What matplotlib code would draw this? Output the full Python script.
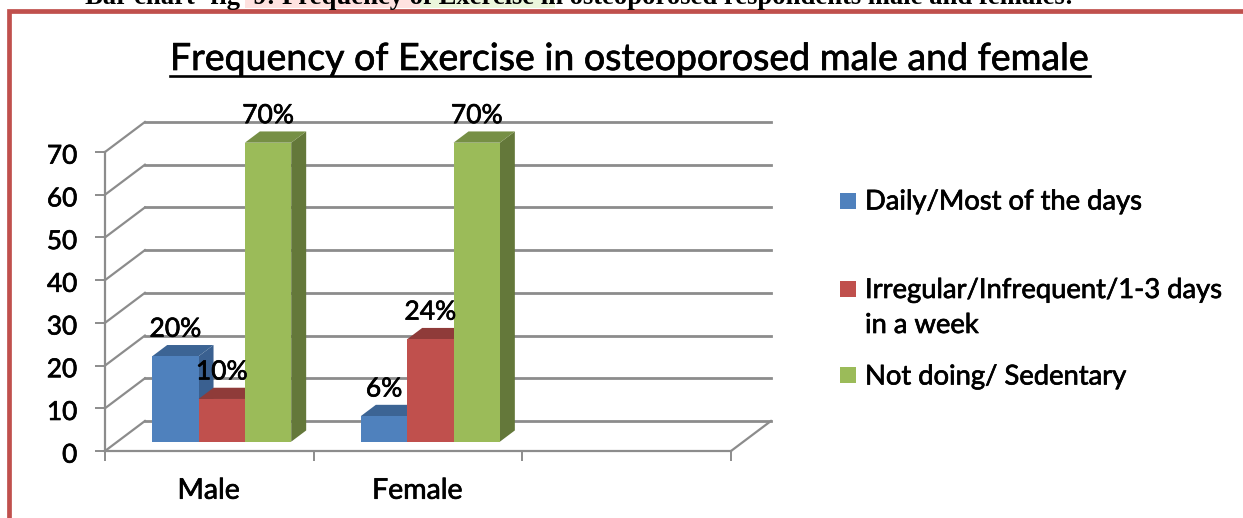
"""Frequency of exercise bar chart, Excel style fake-3D look."""
import matplotlib
matplotlib.use("Agg")
import matplotlib.pyplot as plt
import matplotlib.patheffects as pe

plt.rcParams["font.family"] = ["Lato", "DejaVu Sans"]

CATEGORIES = ["Male", "Female"]
SERIES = ["Daily/Most of the days",
          "Irregular/Infrequent/1-3 days\nin a week",
          "Not doing/ Sedentary"]
DAILY = [20, 6]
IRREGULAR = [10, 24]
NOT_DOING = [70, 70]
Y_TICKS = [0, 10, 20, 30, 40, 50, 60, 70]
TITLE = "Frequency of Exercise in osteoporosed male and female"
CAPTION = "Bar chart- fig  9: Frequency of Exercise in osteoporosed respondents male and females:"

W, H = 1243, 518
FRONT = "#4F81BD", "#C0504D", "#9BBB59"
TOPS = "#3C6494", "#8F3B39", "#768F45"
SIDES = "#3A6090", "#8A3836", "#64783A"
GRID = "#8C8C8C"

# wall depth in data units: 40 px across, 30 px up
DX = 40 / 209.0
DY = 30 / 4.27
BAR_W = 46.4 / 209.0
BAR_NEAR = 0.31     # front of bars, as fraction of wall depth
BAR_FAR = 0.685     # back of bars

# the source text is blurry and heavier than plain Lato
HEAVY = [pe.withStroke(linewidth=0.5, foreground="black")]


def px_rect(x0, y0, x1, y1):
    return [x0 / W, 1 - y1 / H, (x1 - x0) / W, (y1 - y0) / H]


fig = plt.figure(figsize=(W / 100, H / 100), dpi=100)

# red frame, runs off the right and bottom
bg = fig.add_axes([0, 0, 1, 1])
bg.set_xlim(0, W)
bg.set_ylim(H, 0)
bg.axis("off")
bg.fill_between([245, 420], -1, 8, color="#FFE2E0", lw=0)
bg.fill_between([420, 555], -1, 8, color="#EBF6DC", lw=0)
bg.text(85, 3.5, CAPTION, family="Liberation Serif", weight="bold", fontsize=19.2,
        ha="left", va="baseline")
bg.plot([9, 9, W + 5], [H + 5, 10.5, 10.5], color="#C0504D", lw=3.4,
        solid_joinstyle="miter")
bg.text(630, 59, TITLE, fontsize=27, ha="center", va="center", path_effects=HEAVY)
bg.plot([170, 1090], [75.5, 75.5], color="black", lw=1.9)

ax = fig.add_axes(px_rect(105, 152, 731, 451))
ax.set_xlim(0, 3)
ax.set_ylim(0, 70)
ax.patch.set_visible(False)
for s in ["top", "right"]:
    ax.spines[s].set_visible(False)
for s in ["left", "bottom"]:
    ax.spines[s].set_color(GRID)
    ax.spines[s].set_linewidth(1.6)

ax.set_yticks(Y_TICKS)
ax.set_yticklabels([])
ax.set_xticks([0, 1, 2, 3])
ax.set_xticklabels([])
ax.tick_params(axis="both", length=7, width=1.4, color=GRID)
for v in Y_TICKS:
    ax.annotate(str(v), (0, v), xytext=(-20, -3), textcoords="offset points",
                fontsize=18.8, ha="right", va="center", annotation_clip=False,
                path_effects=HEAVY)

# walls: diagonal on the left, long line on the back
for v in Y_TICKS:
    ax.plot([0, DX], [v, v + DY], color=GRID, lw=1.6, clip_on=False, zorder=1)
    ax.plot([DX, 3 + DX], [v + DY, v + DY], color=GRID, lw=2.0, clip_on=False, zorder=1)
ax.plot([3, 3 + DX], [0, DY], color=GRID, lw=1.6, clip_on=False, zorder=1)

for i, cat in enumerate(CATEGORIES):
    ax.text(i + 0.497, -9.3, cat, fontsize=20.5, ha="center", va="center", path_effects=HEAVY)

# near/far offsets of a bar in data units
nx, ny = BAR_NEAR * DX, BAR_NEAR * DY
fx, fy = BAR_FAR * DX, BAR_FAR * DY
dpx, dpy = fx - nx, fy - ny

z = 3
for s, vals in enumerate([DAILY, IRREGULAR, NOT_DOING]):
    for i, v in enumerate(vals):
        x0 = i + 0.5 + (s - 1.5) * BAR_W + nx
        x1 = x0 + BAR_W
        base = ny
        top = ny + v
        ax.fill([x1, x1 + dpx, x1 + dpx, x1],
                [base, base + dpy, top + dpy, top],
                color=SIDES[s], lw=0, clip_on=False, zorder=z)
        ax.fill([x0, x0 + dpx, x1 + dpx, x1],
                [top, top + dpy, top + dpy, top],
                color=TOPS[s], lw=0, clip_on=False, zorder=z)
        ax.bar(x0, v, width=BAR_W, bottom=base, align="edge",
               color=FRONT[s], lw=0, clip_on=False, zorder=z)
    z += 1

# data labels sit over everything
for s, vals in enumerate([DAILY, IRREGULAR, NOT_DOING]):
    for i, v in enumerate(vals):
        xc = i + 0.5 + (s - 1) * BAR_W + nx
        ax.text(xc, v + ny + dpy + 3.7, f"{v}%", fontsize=19, ha="center",
                va="center", clip_on=False, zorder=10, path_effects=HEAVY)

# legend
for name, color, y in zip(SERIES, FRONT, [201, 288.5, 375]):
    bg.scatter([848.5], [y], marker="s", s=128, color=color, lw=0, zorder=2)

bg.text(865, 202, SERIES[0], fontsize=19.7, ha="left", va="center", path_effects=HEAVY)
bg.text(865, 308, SERIES[1], fontsize=19.7, ha="left", va="center", linespacing=1.5,
        path_effects=HEAVY)
bg.text(865, 377, SERIES[2], fontsize=19.7, ha="left", va="center", path_effects=HEAVY)

fig.savefig("out.png", dpi=100)
